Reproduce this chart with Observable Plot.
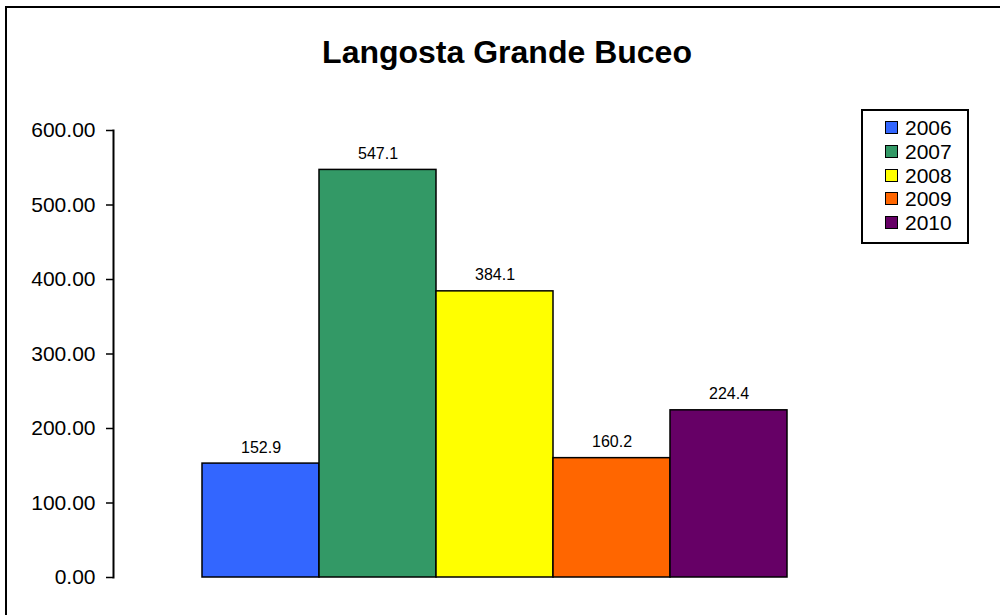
<!DOCTYPE html>
<html>
<head>
<meta charset="utf-8">
<script src="https://cdn.jsdelivr.net/npm/d3@7"></script>
<script src="https://cdn.jsdelivr.net/npm/@observablehq/plot@0.6"></script>
<style>
  html, body { margin: 0; padding: 0; background: #fff; }
  body { font-family: "Liberation Sans", Arial, sans-serif; }
  #wrap { position: relative; width: 1000px; height: 615px; overflow: hidden; background: #fff; }
  #border { position: absolute; left: 5px; top: 6px; width: 1200px; height: 800px; border-left: 2px solid #000; border-top: 2px solid #000; }
  #title { position: absolute; left: 0; top: 36px; width: 1014px; text-align: center; font-size: 32px; line-height: 32px; font-weight: bold; color: #000; }
  #chart { position: absolute; left: 0; top: 100px; }
  #legend { position: absolute; left: 861px; top: 109px; width: 108px; height: 135px; box-sizing: border-box; border: 2px solid #000; background: #fff; padding-top: 5px; }
  .row { display: flex; align-items: center; height: 23.7px; padding-left: 22px; }
  .sw { width: 13px; height: 13px; box-sizing: border-box; border: 1.5px solid #000; margin-right: 7px; }
  .lab { font-size: 21px; line-height: 21px; color: #000; }
</style>
</head>
<body>
<div id="wrap">
  <div id="border"></div>
  <div id="title"></div>
  <div id="chart"></div>
  <div id="legend"></div>
</div>
<script>
const title = "Langosta Grande Buceo";
const years = ["2006", "2007", "2008", "2009", "2010"];
const values = [152.9, 547.1, 384.1, 160.2, 224.4];
const colors = ["#3366FF", "#339966", "#FFFF00", "#FF6600", "#660066"];
const yTicks = [0, 100, 200, 300, 400, 500, 600];

const data = years.map((y, i) => ({year: y, value: values[i]}));

document.getElementById("title").textContent = title;

const chart = Plot.plot({
  width: 1000,
  height: 515,
  marginTop: 30,
  marginBottom: 38,
  marginLeft: 113,
  marginRight: 0,
  style: {fontFamily: '"Liberation Sans", Arial, sans-serif', background: "transparent", color: "#000"},
  x: {type: "band", domain: years, range: [201, 787], padding: 0, axis: null},
  y: {domain: [0, 600]},
  color: {domain: years, range: colors},
  marks: [
    Plot.barY(data, {x: "year", y: "value", fill: "year", stroke: "#000", strokeWidth: 1.5}),
    Plot.text(data, {x: "year", y: "value", text: d => d.value.toFixed(1), dy: -11, lineAnchor: "bottom", fontSize: 16, fill: "#000"}),
    Plot.axisY({ticks: yTicks, tickFormat: d3.format(".2f"), tickSize: 7, tickPadding: 11, fontSize: 21, label: null, stroke: "#000", strokeWidth: 1.5, strokeOpacity: 1, fill: "#000"}),
    Plot.frame({anchor: "left", stroke: "#000", strokeWidth: 2})
  ]
});
document.getElementById("chart").appendChild(chart);

const legend = document.getElementById("legend");
years.forEach((y, i) => {
  const row = document.createElement("div");
  row.className = "row";
  const sw = document.createElement("div");
  sw.className = "sw";
  sw.style.background = colors[i];
  const lab = document.createElement("span");
  lab.className = "lab";
  lab.textContent = y;
  row.appendChild(sw);
  row.appendChild(lab);
  legend.appendChild(row);
});
</script>
</body>
</html>
